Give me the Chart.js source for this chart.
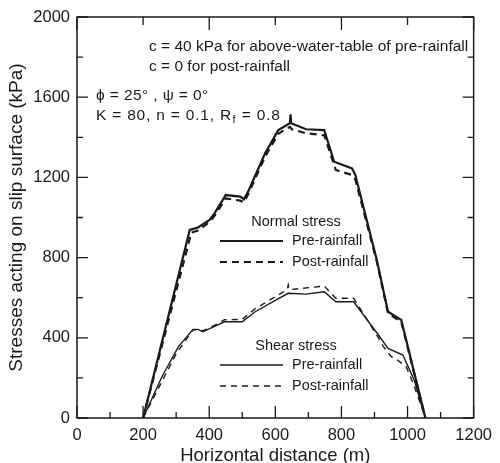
<!DOCTYPE html>
<html>
<head>
<meta charset="utf-8">
<script src="https://cdn.jsdelivr.net/npm/chart.js@4.4.1/dist/chart.umd.min.js"></script>
<style>
  html,body{margin:0;padding:0;background:#fff;}
  #wrap{width:500px;height:463px;}
</style>
</head>
<body>
<div id="wrap"><canvas id="c" width="500" height="463"></canvas></div>
<script>
// Stress along slip surface (x = horizontal distance in m, y = kPa)
const xNormalPre  = [200, 341, 366, 401, 416, 450, 494, 505, 520, 569, 609, 644, 646, 648, 693, 748, 778, 832, 842, 907, 941, 981, 1054];
const yNormalPre  = [0,   938, 950, 988, 1021,1112,1104,1091,1137,1320,1436,1470,1515,1470,1440,1436,1278,1245,1212,788, 530, 489, 0];

const xNormalPost = [200, 346, 366, 401, 416, 450, 494, 505, 520, 569, 609, 644, 650, 693, 748, 783, 832, 842, 907, 941, 981, 1054];
const yNormalPost = [0,   925, 935, 978, 1008,1095,1084,1076,1124,1303,1418,1452,1440,1420,1410,1237,1212,1190,780, 522, 480, 0];

const xShearPre   = [200, 257, 307, 351, 366, 381, 426, 446, 500, 539, 604, 639, 693, 748, 783, 837, 912, 941, 986, 1020, 1054];
const yShearPre   = [0,   206, 356, 442, 442, 430, 464, 480, 480, 530, 590, 622, 618, 630, 580, 580, 414, 347, 314, 190,  0];

const xShearPost  = [200, 250, 300, 351, 366, 381, 426, 446, 500, 539, 600, 636, 639, 642, 713, 748, 783, 837, 912, 927, 951, 966, 996, 1021, 1054];
const yShearPost  = [0,   160, 320, 440, 440, 435, 470, 490, 492, 545, 605, 640, 663, 640, 652, 658, 597, 597, 400, 356, 306, 293, 256, 156,  0];

const xTicks = [0, 200, 400, 600, 800, 1000, 1200];
const yTicks = [0, 400, 800, 1200, 1600, 2000];

const INK = '#1a1a1a';
const FONT = '"Liberation Sans", Arial, Helvetica, sans-serif';

const pts = (xs, ys) => xs.map((x, i) => ({x, y: ys[i]}));

function series(xs, ys, width, dash){
  return {
    data: pts(xs, ys),
    borderColor: INK,
    borderWidth: width,
    borderDash: dash,
    pointRadius: 0,
    tension: 0,
    fill: false,
    showLine: true,
    clip: false
  };
}

// frame + inward ticks on all four sides
const frame = {
  id: 'frame',
  afterDatasetsDraw(chart){
    const {ctx, chartArea:a, scales:{x, y}} = chart;
    ctx.save();
    ctx.strokeStyle = INK;
    ctx.lineWidth = 1.5;
    ctx.strokeRect(a.left, a.top, a.right - a.left, a.bottom - a.top);
    ctx.lineWidth = 1.3;
    ctx.beginPath();
    for (let v = 0; v <= 1200; v += 100){
      const px = x.getPixelForValue(v);
      const major = v % 200 === 0;
      const lb = major ? 12 : 6;
      ctx.moveTo(px, a.bottom); ctx.lineTo(px, a.bottom - lb);
      if (major){
        const lt = v % 400 === 0 ? 13 : 8;
        ctx.moveTo(px, a.top); ctx.lineTo(px, a.top + lt);
      }
    }
    for (let v = 0; v <= 2000; v += 200){
      const py = y.getPixelForValue(v);
      const l = v % 400 === 0 ? 11 : 6;
      ctx.moveTo(a.left, py); ctx.lineTo(a.left + l, py);
      ctx.moveTo(a.right, py); ctx.lineTo(a.right - l, py);
    }
    ctx.stroke();
    ctx.restore();
  }
};

// parameter notes and the two small legends
const notes = {
  id: 'notes',
  afterDraw(chart){
    const ctx = chart.ctx;
    ctx.save();
    ctx.fillStyle = INK;
    ctx.strokeStyle = INK;
    ctx.textBaseline = 'middle';
    ctx.textAlign = 'left';

    ctx.font = '15.5px ' + FONT;
    ctx.fillText('c = 40 kPa for above-water-table of pre-rainfall', 149, 47);
    ctx.fillText('c = 0 for post-rainfall', 149, 67);
    ctx.letterSpacing = '0.4px';
    ctx.fillText('\u03d5 = 25\u00b0 , \u03c8 = 0\u00b0', 96, 96);

    // K line with subscript f
    ctx.letterSpacing = '0.8px';
    let tx = 96;
    const k1 = 'K = 80, n = 0.1, R';
    ctx.fillText(k1, tx, 116);
    tx += ctx.measureText(k1).width;
    ctx.font = '11px ' + FONT;
    ctx.fillText('f', tx + 0.5, 120);
    tx += ctx.measureText('f').width + 1;
    ctx.font = '15.5px ' + FONT;
    ctx.fillText(' = 0.8', tx, 116);
    ctx.letterSpacing = '0px';

    // legends
    ctx.font = '14.5px ' + FONT;
    const legend = (title, ty, lw, dash) => {
      ctx.textAlign = 'center';
      ctx.fillText(title, 296, ty);
      ctx.textAlign = 'left';
      ctx.lineWidth = lw;
      ctx.setLineDash([]);
      ctx.beginPath(); ctx.moveTo(220, ty + 19); ctx.lineTo(283, ty + 19); ctx.stroke();
      ctx.setLineDash(dash);
      ctx.beginPath(); ctx.moveTo(220, ty + 40); ctx.lineTo(283, ty + 40); ctx.stroke();
      ctx.setLineDash([]);
      ctx.fillText('Pre-rainfall', 292, ty + 19);
      ctx.fillText('Post-rainfall', 292, ty + 40);
    };
    legend('Normal stress', 222, 2, [7, 5]);
    legend('Shear stress', 346, 1.3, [6, 5]);
    ctx.restore();
  }
};

new Chart(document.getElementById('c'), {
  type: 'scatter',
  data: {
    datasets: [
      series(xNormalPre,  yNormalPre,  2.2, []),
      series(xNormalPost, yNormalPost, 2.2, [7, 5]),
      series(xShearPre,   yShearPre,   1.4, []),
      series(xShearPost,  yShearPost,  1.4, [6, 5])
    ]
  },
  options: {
    responsive: false,
    animation: false,
    layout: { padding: { top: 17, right: 20, left: 0, bottom: 0 } },
    plugins: { legend: { display: false }, tooltip: { enabled: false } },
    scales: {
      x: {
        type: 'linear', min: 0, max: 1200,
        afterBuildTicks: s => { s.ticks = xTicks.map(v => ({value: v})); },
        afterFit: s => { s.height = 45; },
        grid: { display: false, drawTicks: false }, border: { display: false },
        ticks: { color: INK, font: { family: FONT, size: 16.5 }, padding: 8, maxRotation: 0,
                 callback: v => String(v) },
        title: { display: true, text: 'Horizontal distance (m)', color: INK,
                 font: { family: FONT, size: 18.5 }, padding: { top: 0, bottom: -4 } }
      },
      y: {
        min: 0, max: 2000,
        afterBuildTicks: s => { s.ticks = yTicks.map(v => ({value: v})); },
        afterFit: s => { s.width = 77; },
        grid: { display: false, drawTicks: false }, border: { display: false },
        ticks: { color: INK, font: { family: FONT, size: 16.5 }, padding: 7,
                 callback: v => String(v) },
        title: { display: true, text: 'Stresses acting on slip surface (kPa)', color: INK,
                 font: { family: FONT, size: 19 }, padding: { top: 5, bottom: 0 } }
      }
    }
  },
  plugins: [frame, notes]
});
</script>
</body>
</html>
